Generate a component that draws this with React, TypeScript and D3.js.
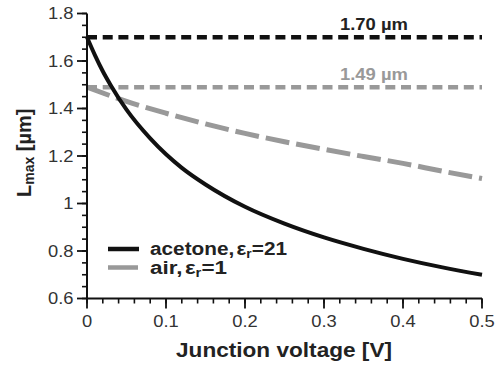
import React from "react";
import * as d3 from "d3";

const acetoneV = [0, 0.01, 0.02, 0.03, 0.05, 0.08, 0.1, 0.12, 0.15, 0.2, 0.25, 0.3, 0.35, 0.4, 0.45, 0.5];
const acetoneL = [1.70, 1.625, 1.557, 1.498, 1.395, 1.274, 1.207, 1.15, 1.08, 0.986, 0.915, 0.857, 0.809, 0.767, 0.731, 0.70];
const airV = [0, 0.05, 0.1, 0.15, 0.2, 0.25, 0.3, 0.35, 0.4, 0.45, 0.5];
const airL = [1.49, 1.43, 1.38, 1.335, 1.295, 1.26, 1.228, 1.198, 1.169, 1.136, 1.105];
const limitValues = [1.70, 1.49];
const limitLabels = ["1.70 µm", "1.49 µm"];
const xTicks = [0, 0.1, 0.2, 0.3, 0.4, 0.5];
const xTickLabels = ["0", "0.1", "0.2", "0.3", "0.4", "0.5"];
const yTicks = [0.6, 0.8, 1, 1.2, 1.4, 1.6, 1.8];
const yTickLabels = ["0.6", "0.8", "1", "1.2", "1.4", "1.6", "1.8"];

export default function App() {
  const W = 502, H = 367;
  const x = d3.scaleLinear().domain([0, 0.5]).range([87, 482]);
  const y = d3.scaleLinear().domain([0.6, 1.8]).range([298.5, 13.5]);
  const line = d3.line<[number, number]>().x(d => x(d[0])).y(d => y(d[1])).curve(d3.curveMonotoneX);
  const ac = acetoneV.map((v, i) => [v, acetoneL[i]] as [number, number]);
  const ai = airV.map((v, i) => [v, airL[i]] as [number, number]);
  const xMinor = d3.range(0, 0.5001, 0.02);
  const yMinor = d3.range(0.6, 1.8001, 0.05);
  const font = "'Liberation Sans', Arial, sans-serif";
  const colors = ["#111", "#999"];
  const y0 = y(0.6);
  return (
    <svg width={W} height={H} style={{ position: "absolute", left: 0, top: 0 }} fontFamily={font}>
      <rect width={W} height={H} fill="#fff" />
      {/* limit lines */}
      {limitValues.map((v, i) => (
        <g key={i}>
          <line x1={x(0)} x2={x(0.5)} y1={y(v)} y2={y(v)} stroke={colors[i]} strokeWidth={4.5} strokeDasharray="10 5.7" />
          <text x={340} y={y(v) - 7} fontSize={17} fontWeight="bold" textLength={68} lengthAdjust="spacingAndGlyphs" fill={i === 0 ? "#222" : "#999"}>{limitLabels[i]}</text>
        </g>
      ))}
      {/* curves */}
      <path d={line(ai) || ""} fill="none" stroke="#999" strokeWidth={5} strokeDasharray="24 7" />
      <path d={line(ac) || ""} fill="none" stroke="#111" strokeWidth={4} />
      {/* axes */}
      <line x1={x(0)} x2={x(0)} y1={y(1.8)} y2={y0} stroke="#111" strokeWidth={2} />
      <line x1={x(0)} x2={x(0.5)} y1={y0} y2={y0} stroke="#111" strokeWidth={2} />
      {xMinor.map((v, i) => (
        <line key={"xm" + i} x1={x(v)} x2={x(v)} y1={y0} y2={y0 + 5} stroke="#111" strokeWidth={1.6} />
      ))}
      {xTicks.map((v, i) => (
        <g key={"xt" + i}>
          <line x1={x(v)} x2={x(v)} y1={y0} y2={y0 + 10} stroke="#111" strokeWidth={1.8} />
          <text x={x(v)} y={327} textAnchor="middle" fontSize={17} fill="#333" transform={`translate(${x(v)},0) scale(1.08,1) translate(${-x(v)},0)`}>{xTickLabels[i]}</text>
        </g>
      ))}
      {yMinor.map((v, i) => (
        <line key={"ym" + i} x1={x(0)} x2={x(0) - 5} y1={y(v)} y2={y(v)} stroke="#111" strokeWidth={1.6} />
      ))}
      {yTicks.map((v, i) => (
        <g key={"yt" + i}>
          <line x1={x(0)} x2={x(0) - 10} y1={y(v)} y2={y(v)} stroke="#111" strokeWidth={1.8} />
          <text x={73.5} y={y(v) + 6} textAnchor="end" fontSize={17} fill="#333" transform={`translate(73.5,0) scale(1.08,1) translate(-73.5,0)`}>{yTickLabels[i]}</text>
        </g>
      ))}
      <text x={176} y={357} fontSize={21} fontWeight="bold" fill="#222" textLength={216} lengthAdjust="spacingAndGlyphs">Junction voltage [V]</text>
      <text transform="translate(31,197) rotate(-90)" fontSize={20} fontWeight="bold" fill="#222">
        L<tspan fontSize={14} dy={3}>max</tspan><tspan dy={-3}> [µm]</tspan>
      </text>
      {/* legend */}
      <line x1={108} x2={139} y1={249} y2={249} stroke="#111" strokeWidth={4.5} />
      <text x={150} y={255} fontSize={18} fontWeight="bold" fill="#222" textLength={137} lengthAdjust="spacingAndGlyphs">acetone,<tspan dx={2}>ε</tspan><tspan fontSize={12} dy={3}>r</tspan><tspan dy={-3}>=21</tspan></text>
      <line x1={108} x2={138} y1={267.5} y2={267.5} stroke="#999" strokeWidth={4.5} />
      <text x={150} y={273.5} fontSize={18} fontWeight="bold" fill="#222" textLength={77} lengthAdjust="spacingAndGlyphs">air,<tspan dx={2}>ε</tspan><tspan fontSize={12} dy={3}>r</tspan><tspan dy={-3}>=1</tspan></text>
    </svg>
  );
}
